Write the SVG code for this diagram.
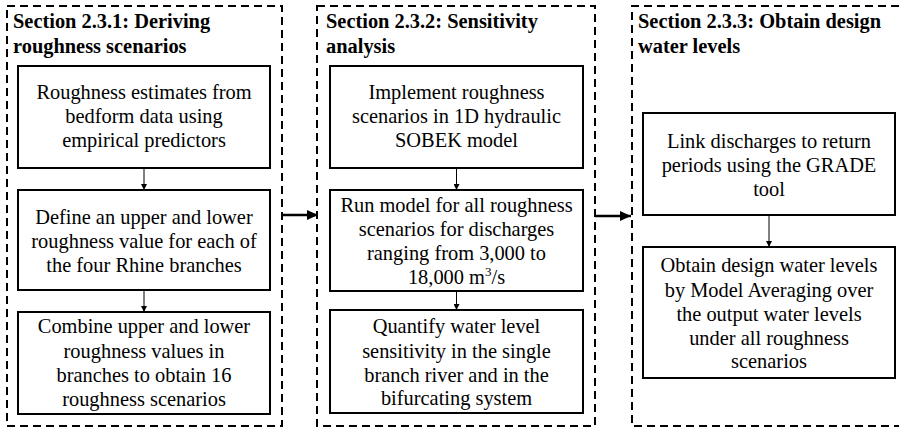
<svg xmlns="http://www.w3.org/2000/svg" width="899" height="429" viewBox="0 0 899 429">
<style>
text{font-family:"Liberation Serif","Times New Roman",serif;font-size:20.4px;fill:#000}
.t{font-weight:bold}
.b{text-anchor:middle}
.sec{fill:none;stroke:#000;stroke-width:2;stroke-dasharray:8 5}
.box{fill:#fff;stroke:#000;stroke-width:2}
.s{stroke:#000;stroke-width:1;fill:none}
.L{stroke:#000;stroke-width:2.5;fill:none}
</style>
<defs>
<marker id="ah" markerWidth="6" markerHeight="6" refX="6" refY="3" orient="auto" markerUnits="userSpaceOnUse"><path d="M0,0 L6,3 L0,6 Z" fill="#000"/></marker>
<marker id="AH" markerWidth="11" markerHeight="10" refX="11" refY="5" orient="auto" markerUnits="userSpaceOnUse"><path d="M0,0 L11,5 L0,10 Z" fill="#000"/></marker>
</defs>
<g id="section1">
<rect class="sec" x="7" y="6" width="275" height="420"/>
<text class="t" x="13" y="28">Section 2.3.1: Deriving</text>
<text class="t" x="13" y="53">roughness scenarios</text>
</g>
<g id="section2">
<rect class="sec" x="317" y="6" width="278" height="420"/>
<text class="t" x="326" y="28">Section 2.3.2: Sensitivity</text>
<text class="t" x="326" y="53">analysis</text>
</g>
<g id="section3">
<path class="sec" d="M899,6 H632 V426 H899"/>
<text class="t" x="638" y="28">Section 2.3.3: Obtain design</text>
<text class="t" x="638" y="53">water levels</text>
</g>
<g id="n1a">
<rect class="box" x="18" y="66" width="252" height="102"/>
<text class="b" x="144" y="99">Roughness estimates from</text>
<text class="b" x="144" y="123">bedform data using</text>
<text class="b" x="144" y="147">empirical predictors</text>
</g>
<g id="n1b">
<rect class="box" x="18" y="190" width="252" height="100"/>
<text class="b" x="144" y="224">Define an upper and lower</text>
<text class="b" x="144" y="248">roughness value for each of</text>
<text class="b" x="144" y="272">the four Rhine branches</text>
</g>
<g id="n1c">
<rect class="box" x="18" y="312" width="252" height="102"/>
<text class="b" x="144" y="333">Combine upper and lower</text>
<text class="b" x="144" y="358">roughness values in</text>
<text class="b" x="144" y="382">branches to obtain 16</text>
<text class="b" x="144" y="406">roughness scenarios</text>
</g>
<g id="n2a">
<rect class="box" x="330" y="66" width="253" height="102"/>
<text class="b" x="456.5" y="99">Implement roughness</text>
<text class="b" x="456.5" y="123">scenarios in 1D hydraulic</text>
<text class="b" x="456.5" y="147">SOBEK model</text>
</g>
<g id="n2b">
<rect class="box" x="330" y="190" width="253" height="101"/>
<text class="b" x="456.5" y="212">Run model for all roughness</text>
<text class="b" x="456.5" y="236">scenarios for discharges</text>
<text class="b" x="456.5" y="260">ranging from 3,000 to</text>
<text class="b" x="456.5" y="284">18,000 m<tspan font-size="13" dy="-8">3</tspan><tspan dy="8">/s</tspan></text>
</g>
<g id="n2c">
<rect class="box" x="330" y="310" width="253" height="103"/>
<text class="b" x="456.5" y="333">Quantify water level</text>
<text class="b" x="456.5" y="358">sensitivity in the single</text>
<text class="b" x="456.5" y="382">branch river and in the</text>
<text class="b" x="456.5" y="405">bifurcating system</text>
</g>
<g id="n3a">
<rect class="box" x="643" y="113" width="252" height="102"/>
<text class="b" x="769" y="148">Link discharges to return</text>
<text class="b" x="769" y="172">periods using the GRADE</text>
<text class="b" x="769" y="196">tool</text>
</g>
<g id="n3b">
<rect class="box" x="643" y="247" width="252" height="131"/>
<text class="b" x="769" y="272">Obtain design water levels</text>
<text class="b" x="769" y="297">by Model Averaging over</text>
<text class="b" x="769" y="321">the output water levels</text>
<text class="b" x="769" y="345">under all roughness</text>
<text class="b" x="769" y="368">scenarios</text>
</g>
<g id="connectors">
<line class="s" x1="144" y1="168" x2="144" y2="190" marker-end="url(#ah)"/>
<line class="s" x1="144" y1="290" x2="144" y2="312" marker-end="url(#ah)"/>
<line class="s" x1="456.5" y1="168" x2="456.5" y2="190" marker-end="url(#ah)"/>
<line class="s" x1="456.5" y1="291" x2="456.5" y2="310" marker-end="url(#ah)"/>
<line class="s" x1="769" y1="215" x2="769" y2="247" marker-end="url(#ah)"/>
<line class="L" x1="282" y1="215" x2="318" y2="215" marker-end="url(#AH)"/>
<line class="L" x1="595" y1="216" x2="631" y2="216" marker-end="url(#AH)"/>
</g>
</svg>
